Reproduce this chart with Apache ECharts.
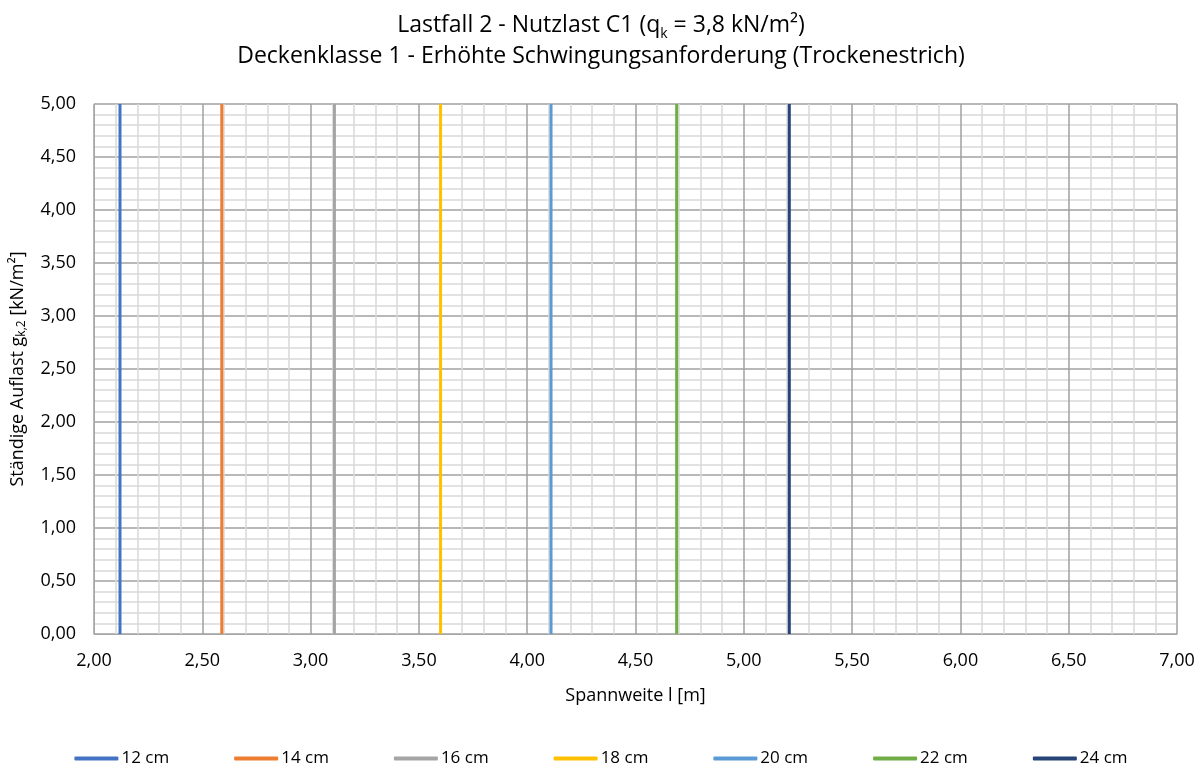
<!DOCTYPE html>
<html>
<head>
<meta charset="utf-8">
<script src="https://cdn.jsdelivr.net/npm/echarts@6/dist/echarts.min.js"></script>
<style>
html,body{margin:0;padding:0;background:#fff;}
#chart{width:1202px;height:767px;}
</style>
</head>
<body>
<div id="chart"></div>
<script>
// Data
const seriesNames = ['12 cm', '14 cm', '16 cm', '18 cm', '20 cm', '22 cm', '24 cm'];
const spanValues = [2.12, 2.59, 3.11, 3.60, 4.11, 4.69, 5.21]; // Spannweite l [m]
const loadStart = [0, 0, 0, 0, 0, 0, 0];   // g_k,2 lower end
const loadEnd = [5, 5, 5, 5, 5, 5, 5];     // g_k,2 upper end
const xAxisRange = [2, 7];
const yAxisRange = [0, 5];
const colors = ['#4472C4', '#ED7D31', '#A5A5A5', '#FFC000', '#5B9BD5', '#70AD47', '#264478'];

const FONT = '"Open Sans", "Noto Sans", sans-serif';
const fmt = v => v.toFixed(2).replace('.', ',');

const chart = echarts.init(document.getElementById('chart'), null, {renderer: 'canvas'});

const series = seriesNames.map((name, i) => ({
  name: name,
  type: 'line',
  data: [[spanValues[i], loadStart[i]], [spanValues[i], loadEnd[i]]],
  showSymbol: false,
  symbol: 'none',
  lineStyle: {width: 3, color: colors[i]},
  itemStyle: {color: colors[i]},
  z: 5
}));

chart.setOption({
  animation: false,
  backgroundColor: '#ffffff',
  title: {
    left: 'center',
    top: 5,
    text: '{a|Lastfall 2 - Nutzlast C1 (q}{s|k}{a| = 3,8 kN/m²)}\n{a|Deckenklasse 1 - Erhöhte Schwingungsanforderung (Trockenestrich)}',
    textStyle: {
      fontFamily: FONT,
      fontWeight: 'normal',
      rich: {
        a: {fontSize: 23, color: '#000', fontFamily: FONT, fontWeight: 'normal', lineHeight: 31},
        s: {fontSize: 14, color: '#000', fontFamily: FONT, fontWeight: 'normal', verticalAlign: 'bottom', lineHeight: 31, padding: [10, 0, 0, 0]}
      }
    }
  },
  grid: {left: 94, right: 25, top: 104, bottom: 133, containLabel: false},
  legend: {
    top: 745,
    left: 'center',
    itemWidth: 44,
    itemHeight: 4,
    itemGap: 65,
    icon: 'roundRect',
    textStyle: {fontFamily: FONT, fontSize: 17, color: '#000', padding: [0, 0, 0, -2]},
    data: seriesNames
  },
  xAxis: {
    type: 'value',
    min: xAxisRange[0],
    max: xAxisRange[1],
    interval: 0.5,
    name: 'Spannweite l [m]',
    nameLocation: 'middle',
    nameGap: 53,
    nameTextStyle: {fontFamily: FONT, fontSize: 18, color: '#000'},
    axisLine: {show: true, lineStyle: {color: '#a6a6a6', width: 1}},
    axisTick: {show: false},
    axisLabel: {formatter: fmt, fontFamily: FONT, fontSize: 18, color: '#000', margin: 18},
    splitLine: {show: true, lineStyle: {color: '#a0a0a0', width: 1.5}},
    minorTick: {show: false, splitNumber: 5},
    minorSplitLine: {show: true, lineStyle: {color: '#d9d9d9', width: 1.5}}
  },
  yAxis: {
    type: 'value',
    min: yAxisRange[0],
    max: yAxisRange[1],
    interval: 0.5,
    name: 'Ständige Auflast g{s|k,2} [kN/m²]',
    nameLocation: 'middle',
    nameGap: 66,
    nameRotate: 90,
    nameTextStyle: {
      fontFamily: FONT, fontSize: 18, color: '#000',
      rich: {s: {fontFamily: FONT, fontSize: 12, color: '#000', verticalAlign: 'bottom', padding: [8, 0, 0, 0]}}
    },
    axisLine: {show: true, lineStyle: {color: '#a6a6a6', width: 1}},
    axisTick: {show: false},
    axisLabel: {formatter: fmt, fontFamily: FONT, fontSize: 18, color: '#000', margin: 18},
    splitLine: {show: true, lineStyle: {color: '#a0a0a0', width: 1.5}},
    minorTick: {show: false, splitNumber: 5},
    minorSplitLine: {show: true, lineStyle: {color: '#d9d9d9', width: 1.5}}
  },
  series: series
});
</script>
</body>
</html>
